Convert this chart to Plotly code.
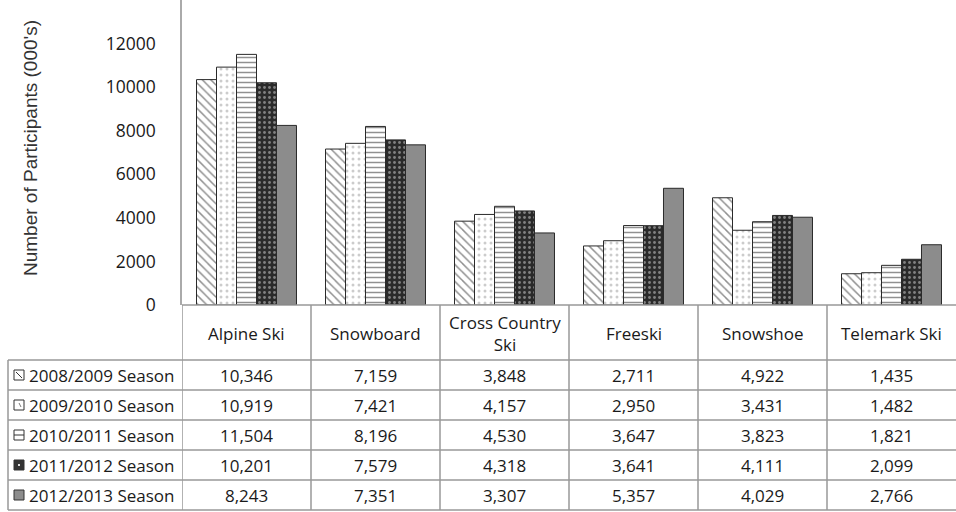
import plotly.graph_objects as go

categories = ["Alpine Ski", "Snowboard", "Cross Country<br>Ski", "Freeski", "Snowshoe", "Telemark Ski"]
series_names = ["2008/2009 Season", "2009/2010 Season", "2010/2011 Season", "2011/2012 Season", "2012/2013 Season"]
s2008 = [10346, 7159, 3848, 2711, 4922, 1435]
s2009 = [10919, 7421, 4157, 2950, 3431, 1482]
s2010 = [11504, 8196, 4530, 3647, 3823, 1821]
s2011 = [10201, 7579, 4318, 3641, 4111, 2099]
s2012 = [8243, 7351, 3307, 5357, 4029, 2766]
series_values = [s2008, s2009, s2010, s2011, s2012]
y_ticks = [0, 2000, 4000, 6000, 8000, 10000, 12000]

W, H = 956, 512
def py(p):
    return 1 - p / H
def px(p):
    return p / W

styles = [
    dict(color="white", pattern=dict(shape="\\", fgcolor="#222", bgcolor="white", size=6, solidity=0.25)),
    dict(color="white", pattern=dict(shape=".", fgcolor="#999", bgcolor="white", size=6, solidity=0.2)),
    dict(color="white", pattern=dict(shape="-", fgcolor="#222", bgcolor="white", size=5, solidity=0.3)),
    dict(color="#2a2a2a", pattern=dict(shape=".", fgcolor="#d8d8d8", bgcolor="#2a2a2a", size=5, solidity=0.25)),
    dict(color="#8c8c8c"),
]

fig = go.Figure()
xs = list(range(len(categories)))
for name, vals, st in zip(series_names, series_values, styles):
    fig.add_trace(go.Bar(
        x=xs, y=vals, name=name,
        marker=dict(**st, line=dict(color="#2a2a2a", width=1)),
        showlegend=False,
    ))

PLOT_TOP, PLOT_BOT, LEFT = 0, 305, 182
TXT = "#1a1a1a"
fig.update_layout(
    width=W, height=H, autosize=False,
    margin=dict(l=0, r=0, t=0, b=0, pad=0),
    paper_bgcolor="white", plot_bgcolor="white",
    barmode="group", bargap=0.225, bargroupgap=0,
    font=dict(family="Open Sans", color=TXT),
    xaxis=dict(domain=[px(LEFT), 1], range=[-0.5, 5.5], showticklabels=False,
               showgrid=False, zeroline=False, showline=False, ticks="", automargin=False),
    yaxis=dict(domain=[py(PLOT_BOT), py(PLOT_TOP)], range=[0, 14000],
               tickvals=y_ticks, ticktext=[str(v) for v in y_ticks],
               showgrid=False, zeroline=False, showline=True, linecolor="#aaa", linewidth=1.5,
               ticks="", ticklabelstandoff=21, tickfont=dict(size=17.5, color=TXT), automargin=False),
)

def ann(text, x, y, xref="paper", yref="paper", **kw):
    fig.add_annotation(text=text, x=x, y=y, xref=xref, yref=yref, showarrow=False,
                       xanchor=kw.pop("xanchor", "center"), yanchor=kw.pop("yanchor", "middle"), **kw)

ann("Number of Participants (000's)", px(30), py(148), textangle=-90,
    font=dict(family="Liberation Sans, Arial", size=19, color="#333"))

# table grid
line = dict(color="#999", width=1.5)
row_lines = [305, 360, 390, 420, 450, 480, 510]
shapes = []
shapes.append(dict(type="line", xref="paper", yref="paper", x0=px(LEFT), x1=1, y0=py(305), y1=py(305), line=line))
for r in row_lines[1:]:
    shapes.append(dict(type="line", xref="paper", yref="paper", x0=px(8), x1=1, y0=py(r), y1=py(r), line=line))
shapes.append(dict(type="line", xref="paper", yref="paper", x0=px(8), x1=px(8), y0=py(360), y1=py(510), line=line))
for i in range(len(categories)):
    shapes.append(dict(type="line", xref="x", yref="paper", x0=i - 0.5, x1=i - 0.5, y0=py(305), y1=py(510), line=line))
fig.update_layout(shapes=shapes)

for i, c in enumerate(categories):
    ann(c, i, py(333), xref="x", font=dict(size=17, color=TXT))

row_centers = [375, 405, 435, 465, 495]
icon_styles = ["diag", "dot", "hline", "dark", "gray"]
for r, (name, vals, ic) in enumerate(zip(series_names, series_values, icon_styles)):
    yc = row_centers[r]
    for i, v in enumerate(vals):
        ann(f"{v:,}", i, py(yc), xref="x", font=dict(size=17, color=TXT))
    ann(name, px(27), py(yc), xanchor="left", font=dict(size=17, color=TXT))
    x0, x1, y0, y1 = 14, 24, yc - 5, yc + 5
    fill = {"diag": "white", "dot": "white", "hline": "white", "dark": "#333", "gray": "#8c8c8c"}[ic]
    fig.add_shape(type="rect", xref="paper", yref="paper", x0=px(x0), x1=px(x1), y0=py(y0), y1=py(y1),
                  line=dict(color="#333", width=1), fillcolor=fill)
    if ic == "diag":
        fig.add_shape(type="line", xref="paper", yref="paper", x0=px(x0 + 2), x1=px(x1 - 2), y0=py(y0 + 2), y1=py(y1 - 2),
                      line=dict(color="#333", width=1))
    elif ic == "dot":
        fig.add_shape(type="line", xref="paper", yref="paper", x0=px(19), x1=px(21), y0=py(yc - 2), y1=py(yc + 2),
                      line=dict(color="#777", width=1))
    elif ic == "hline":
        fig.add_shape(type="line", xref="paper", yref="paper", x0=px(x0), x1=px(x1), y0=py(yc), y1=py(yc),
                      line=dict(color="#333", width=1))
    elif ic == "dark":
        fig.add_shape(type="rect", xref="paper", yref="paper", x0=px(18), x1=px(20), y0=py(yc - 1), y1=py(yc + 1),
                      line=dict(width=0), fillcolor="#ddd")

fig.write_html("out.html")
